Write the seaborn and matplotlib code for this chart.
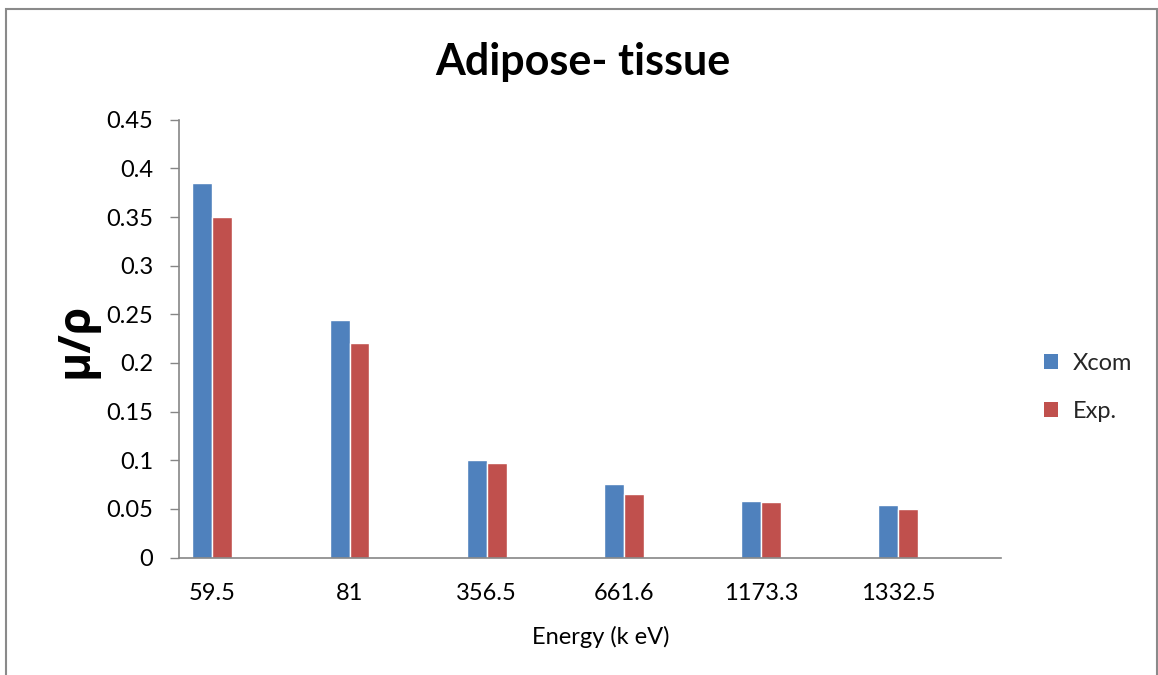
import matplotlib
matplotlib.use("Agg")
import matplotlib.pyplot as plt
import seaborn as sns
import pandas as pd
from matplotlib.patches import Rectangle, Patch

# ---- data ----
energies = ["59.5", "81", "356.5", "661.6", "1173.3", "1332.5"]
xcom_values = [0.385, 0.244, 0.100, 0.076, 0.058, 0.054]
exp_values = [0.350, 0.221, 0.097, 0.065, 0.057, 0.050]
series_names = ["Xcom", "Exp."]
y_ticks = [0, 0.05, 0.1, 0.15, 0.2, 0.25, 0.3, 0.35, 0.4, 0.45]

df = pd.DataFrame({
    "Energy": energies * 2,
    "value": xcom_values + exp_values,
    "series": [series_names[0]] * len(energies) + [series_names[1]] * len(energies),
})

sns.set_theme(style="white")
plt.rcParams["font.family"] = ["Lato", "DejaVu Sans"]

W, H = 1158, 675
fig = plt.figure(figsize=(W / 100, H / 100), dpi=100)
fig.patch.set_facecolor("white")

def fx(px):
    return px / W

def fy(py):
    return 1 - py / H

ax = fig.add_axes([fx(179), fy(557.6), fx(1001) - fx(179), fy(119.7) - fy(557.6)])

colors = {"Xcom": "#4F81BD", "Exp.": "#C0504D"}
sns.barplot(data=df, x="Energy", y="value", hue="series", order=energies,
            hue_order=series_names, palette=colors, width=0.29,
            saturation=1, ax=ax, legend=False, errorbar=None)

ax.set_xlim(-0.243, 5.748)
ax.set_ylim(0, 0.45)
ax.set_yticks(y_ticks)
ax.set_yticklabels([f"{v:g}" for v in y_ticks])
ax.set_xlabel("")
ax.set_ylabel("")

for side in ["top", "right"]:
    ax.spines[side].set_visible(False)
for side in ["left", "bottom"]:
    ax.spines[side].set_color("#868686")
    ax.spines[side].set_linewidth(1.2)

ax.tick_params(axis="y", which="both", left=True, length=6.5, width=1.0,
               color="#868686", labelsize=17, pad=12, labelcolor="black")
ax.tick_params(axis="x", which="both", bottom=False, length=0,
               labelsize=17, pad=18.5, labelcolor="black")

# title and axis labels
fig.text(fx(583), fy(62), "Adipose- tissue", ha="center", va="center",
         fontsize=31, fontweight="bold", color="black")
fig.text(fx(76), fy(340), "\u03bc/\u03c1", ha="center", va="center", rotation=90,
         fontsize=32, fontweight="bold", color="black",
         family=["Open Sans", "DejaVu Sans"])
fig.text(fx(600.7), fy(644), "Energy (k eV)", ha="center", va="baseline",
         fontsize=17, color="black")

# legend
handles = [Patch(facecolor=colors[s], edgecolor="none", label=s) for s in series_names]
fig.legend(handles=handles, loc="upper left", bbox_to_anchor=(fx(1044), fy(352.5)),
           frameon=False, fontsize=17, handlelength=0.59, handleheight=0.59,
           handletextpad=0.62, labelspacing=1.15, borderpad=0, borderaxespad=0)

# chart frame
frame = Rectangle((fx(6), -0.05), fx(1156.5) - fx(6), fy(8.7) + 0.05,
                  transform=fig.transFigure, fill=False, edgecolor="#8a8a8a",
                  linewidth=1.5, clip_on=False)
fig.patches.append(frame)

fig.savefig("out.png", dpi=100, facecolor="white")
